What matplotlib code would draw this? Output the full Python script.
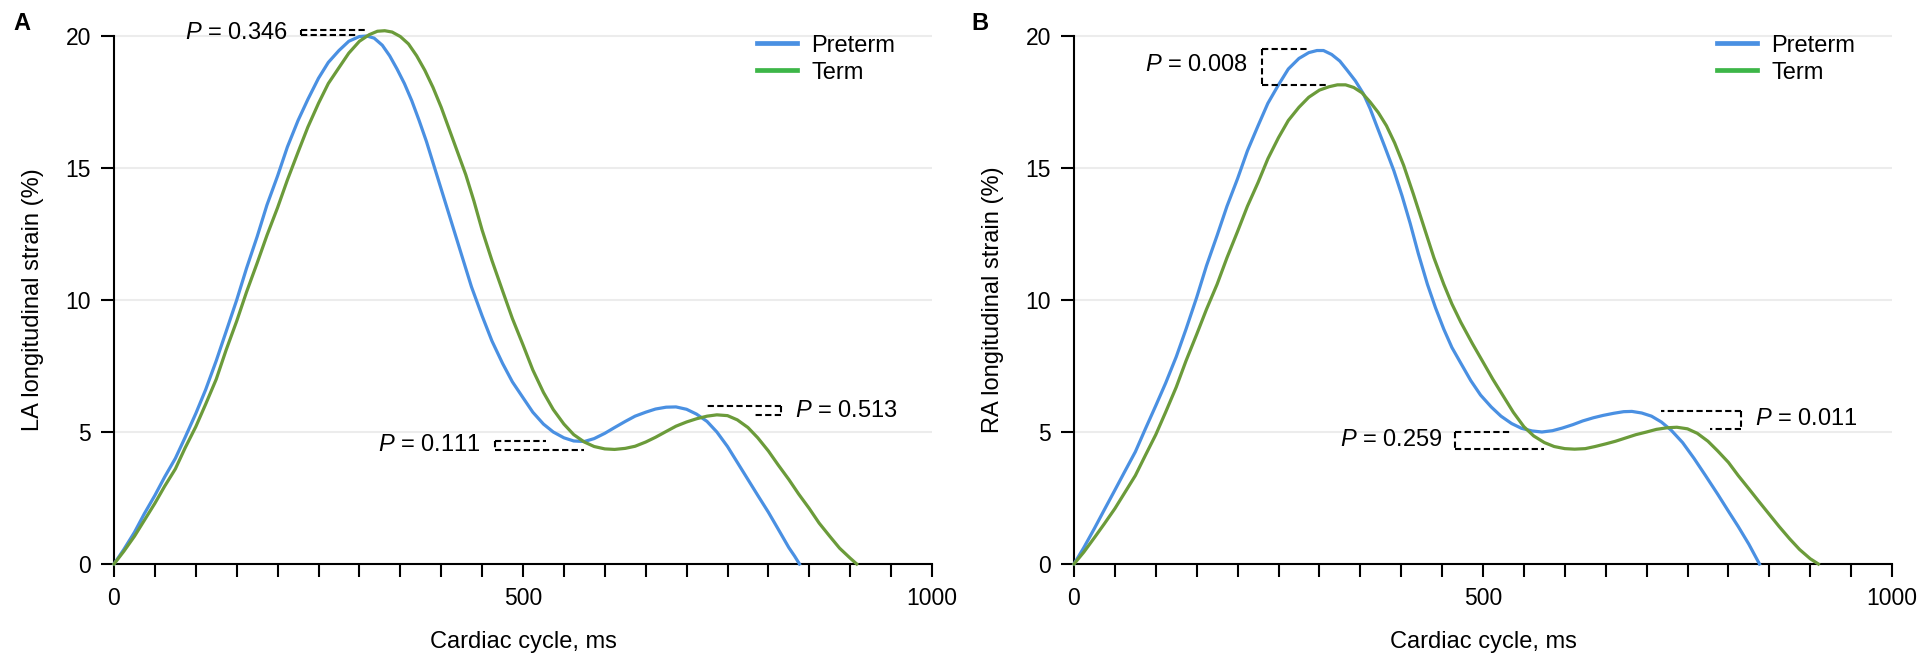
import matplotlib
matplotlib.use("Agg")
import matplotlib.pyplot as plt
from matplotlib.lines import Line2D

plt.rcParams['font.family'] = 'Liberation Sans'
plt.rcParams['mathtext.fontset'] = 'custom'
plt.rcParams['mathtext.rm'] = 'Liberation Sans'
plt.rcParams['mathtext.it'] = 'Liberation Sans:italic'

# ---- data (ms, strain %) ----
la_pre_x = [0, 12, 25, 37, 50, 62, 75, 87, 100, 112, 125, 137, 150, 162, 175, 187, 200, 212, 225, 237,
            250, 262, 275, 287, 300, 309, 318, 328, 337, 346, 355, 364, 373, 382, 391, 400, 412, 425,
            437, 450, 462, 475, 487, 500, 512, 525, 537, 550, 562, 575, 587, 600, 612, 625, 637, 650,
            662, 675, 687, 700, 712, 725, 737, 750, 762, 775, 787, 800, 812, 825, 832, 838]
la_pre_y = [0, 0.55, 1.2, 1.9, 2.6, 3.3, 4.0, 4.8, 5.7, 6.6, 7.7, 8.8, 10.0, 11.2, 12.4, 13.6, 14.7,
            15.8, 16.8, 17.6, 18.4, 19.0, 19.45, 19.8, 19.98, 20.0, 19.92, 19.65, 19.25, 18.75, 18.2,
            17.55, 16.8, 16.0, 15.1, 14.2, 13.0, 11.7, 10.5, 9.4, 8.45, 7.6, 6.9, 6.3, 5.75, 5.3, 5.0,
            4.78, 4.66, 4.64, 4.75, 4.95, 5.17, 5.4, 5.6, 5.75, 5.87, 5.94, 5.95, 5.86, 5.68, 5.4, 5.0,
            4.45, 3.85, 3.2, 2.6, 1.96, 1.32, 0.62, 0.3, 0]
la_term_x = [0, 12, 25, 37, 50, 62, 75, 87, 100, 112, 125, 137, 150, 162, 175, 187, 200, 212, 225, 237,
             250, 262, 275, 287, 300, 312, 322, 331, 340, 350, 360, 370, 380, 390, 400, 410, 420, 430,
             440, 450, 462, 475, 487, 500, 512, 525, 537, 550, 562, 575, 587, 600, 612, 625, 637, 650,
             662, 675, 687, 700, 712, 725, 737, 750, 762, 775, 787, 800, 812, 825, 837, 850, 862, 875,
             887, 900, 908]
la_term_y = [0, 0.48, 1.05, 1.65, 2.3, 2.95, 3.6, 4.4, 5.2, 6.05, 7.0, 8.1, 9.2, 10.3, 11.4, 12.45,
             13.5, 14.55, 15.6, 16.55, 17.45, 18.2, 18.8, 19.35, 19.8, 20.05, 20.18, 20.2, 20.15, 19.98,
             19.7, 19.25, 18.7, 18.05, 17.3, 16.45, 15.6, 14.75, 13.75, 12.65, 11.5, 10.35, 9.3, 8.3,
             7.35, 6.5, 5.85, 5.3, 4.9, 4.62, 4.45, 4.36, 4.34, 4.38, 4.46, 4.62, 4.8, 5.02, 5.22, 5.38,
             5.5, 5.6, 5.65, 5.62, 5.46, 5.17, 4.78, 4.28, 3.75, 3.2, 2.65, 2.1, 1.55, 1.05, 0.6, 0.22, 0]

ra_pre_x = [0, 12, 25, 37, 50, 62, 75, 87, 100, 112, 125, 137, 150, 162, 175, 187, 200, 212, 225, 237,
            250, 262, 275, 287, 297, 305, 315, 325, 334, 344, 354, 362, 370, 380, 391, 401, 411, 421,
            432, 442, 452, 462, 473, 485, 497, 510, 522, 535, 547, 560, 572, 585, 597, 610, 622, 635,
            647, 660, 672, 682, 694, 706, 718, 730, 744, 758, 772, 787, 800, 812, 825, 838]
ra_pre_y = [0, 0.62, 1.35, 2.05, 2.8, 3.5, 4.25, 5.1, 6.0, 6.85, 7.85, 8.9, 10.1, 11.3, 12.45, 13.55,
            14.6, 15.65, 16.6, 17.45, 18.15, 18.75, 19.15, 19.37, 19.45, 19.45, 19.3, 19.05, 18.7, 18.3,
            17.8, 17.25, 16.6, 15.8, 14.9, 13.95, 12.9, 11.75, 10.6, 9.7, 8.9, 8.2, 7.6, 6.95, 6.4,
            5.95, 5.6, 5.32, 5.14, 5.04, 5.0, 5.05, 5.15, 5.28, 5.42, 5.54, 5.63, 5.71, 5.77, 5.78,
            5.72, 5.6, 5.38, 5.07, 4.6, 4.0, 3.35, 2.64, 2.0, 1.42, 0.75, 0]
ra_term_x = [0, 12, 25, 37, 50, 62, 75, 87, 100, 112, 125, 137, 150, 162, 175, 187, 200, 212, 225, 237,
             250, 262, 275, 287, 300, 312, 322, 332, 342, 352, 362, 372, 382, 392, 403, 415, 428, 440,
             452, 462, 473, 487, 500, 512, 525, 537, 550, 562, 575, 587, 600, 612, 625, 637, 650, 662,
             675, 687, 700, 712, 725, 737, 750, 762, 775, 787, 800, 812, 825, 837, 850, 862, 875, 887,
             900, 910]
ra_term_y = [0, 0.45, 1.0, 1.52, 2.1, 2.7, 3.35, 4.1, 4.9, 5.75, 6.7, 7.7, 8.7, 9.65, 10.6, 11.6, 12.6,
             13.55, 14.45, 15.35, 16.15, 16.8, 17.3, 17.68, 17.95, 18.08, 18.15, 18.15, 18.05, 17.85,
             17.5, 17.1, 16.6, 15.95, 15.1, 14.0, 12.75, 11.6, 10.6, 9.85, 9.15, 8.35, 7.65, 7.0, 6.35,
             5.75, 5.2, 4.85, 4.6, 4.45, 4.37, 4.35, 4.37, 4.45, 4.55, 4.65, 4.78, 4.9, 5.0, 5.1, 5.16,
             5.18, 5.12, 4.95, 4.65, 4.28, 3.85, 3.35, 2.85, 2.38, 1.88, 1.42, 0.95, 0.55, 0.2, 0]

# P-value brackets: (text, side, x_vertical, x_top_end, y_top, x_bot_end, y_bot, x_text, y_text)
brackets_la = [
    ("0.346", "left", 228, 310, 20.22, 298, 20.03, 213, 20.1),
    ("0.111", "left", 466, 528, 4.66, 575, 4.32, 448, 4.5),
    ("0.513", "right", 816, 723, 5.97, 781, 5.64, 832, 5.8),
]
brackets_ra = [
    ("0.008", "left", 230, 287, 19.5, 309, 18.14, 213, 18.9),
    ("0.259", "left", 466, 534, 5.0, 575, 4.35, 450, 4.7),
    ("0.011", "right", 816, 717, 5.78, 777, 5.1, 832, 5.5),
]

labels = ["Preterm", "Term"]
c_pre = '#4a90e2'
c_term = '#6b9b3a'
c_term_leg = '#3db648'

fig = plt.figure(figsize=(19.21, 6.54), dpi=100)
ax_a = fig.add_axes([114 / 1921, 90 / 654, 818 / 1921, 554.4 / 654])
ax_b = fig.add_axes([1074 / 1921, 90 / 654, 818 / 1921, 554.4 / 654])


def draw_panel(ax, pre_x, pre_y, term_x, term_y, brackets, ylabel):
    ax.plot(pre_x, pre_y, color=c_pre, lw=2.3, clip_on=False, zorder=3, solid_joinstyle='round')
    ax.plot(term_x, term_y, color=c_term, lw=2.3, clip_on=False, zorder=3, solid_joinstyle='round')

    for txt, side, xv, xt, yt, xb, yb, xtxt, ytxt in brackets:
        kw = dict(color='black', lw=1.5, dashes=(3, 1.6), zorder=4)
        ax.plot([xv, xt], [yt, yt], **kw)
        ax.plot([xv, xb], [yb, yb], **kw)
        ax.plot([xv, xv], [yt, yb], **kw)
        ha = 'right' if side == 'left' else 'left'
        ax.text(xtxt, ytxt, r"$P$ = " + txt, ha=ha, va='center', fontsize=17)

    ax.set_xlim(0, 1000)
    ax.set_ylim(0, 21)
    ax.set_xticks([0, 500, 1000])
    ax.set_xticks(range(0, 1001, 50), minor=True)
    ax.set_yticks([0, 5, 10, 15, 20])
    for s in ['top', 'right']:
        ax.spines[s].set_visible(False)
    ax.spines['left'].set_bounds(0, 20)
    ax.spines['bottom'].set_bounds(0, 1000)
    for s in ['left', 'bottom']:
        ax.spines[s].set_linewidth(1.5)
    ax.tick_params(which='both', direction='out', length=9.5, width=1.5, labelsize=16.5, pad=7)
    ax.yaxis.grid(True, color='#ececec', lw=1.5)
    ax.set_axisbelow(True)

    ax.set_ylabel(ylabel, fontsize=17)
    ax.yaxis.set_label_coords(-0.0856, 10 / 21)
    ax.set_xlabel("Cardiac cycle, ms", fontsize=17)
    ax.xaxis.set_label_coords(0.5, -0.121)

    handles = [Line2D([], [], color=c_pre, lw=3.4), Line2D([], [], color=c_term_leg, lw=3.4)]
    ax.legend(handles, labels, loc='upper left', bbox_to_anchor=(0.786, 0.955), frameon=False,
              fontsize=17, handlelength=1.7, handletextpad=0.6, labelspacing=0.22,
              borderpad=0, borderaxespad=0)


draw_panel(ax_a, la_pre_x, la_pre_y, la_term_x, la_term_y, brackets_la, "LA longitudinal strain (%)")
draw_panel(ax_b, ra_pre_x, ra_pre_y, ra_term_x, ra_term_y, brackets_ra, "RA longitudinal strain (%)")

fig.text(22 / 1921, 1 - 24 / 654, "A", fontsize=17, fontweight='bold', ha='center', va='center')
fig.text(980 / 1921, 1 - 24 / 654, "B", fontsize=17, fontweight='bold', ha='center', va='center')

fig.savefig("out.png", dpi=100)
